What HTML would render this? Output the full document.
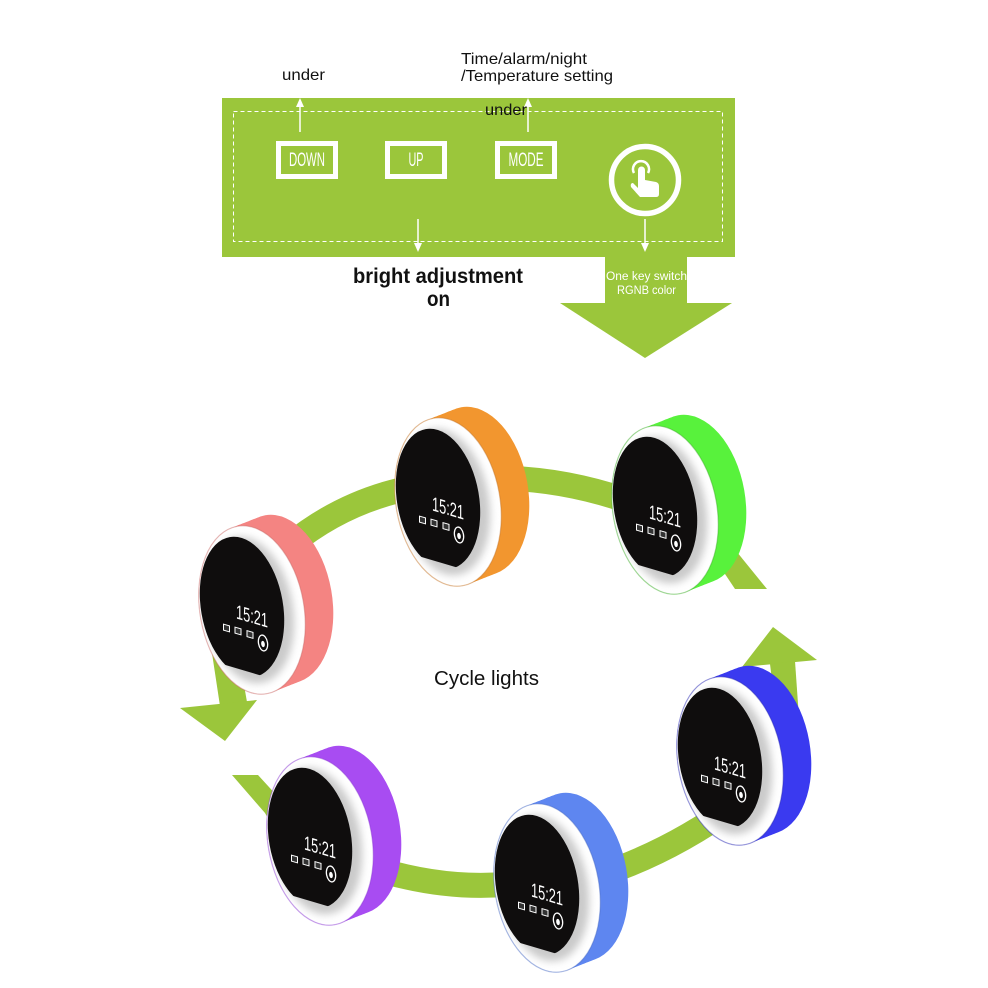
<!DOCTYPE html>
<html>
<head>
<meta charset="utf-8">
<style>
html,body{margin:0;padding:0;background:#fff;}
svg{display:block;}
</style>
</head>
<body>
<svg width="988" height="988" viewBox="0 0 988 988" xmlns="http://www.w3.org/2000/svg" xmlns:xlink="http://www.w3.org/1999/xlink" font-family="'Liberation Sans', sans-serif">
<defs>
  <ellipse id="W" rx="52" ry="85" transform="rotate(-10)"/>
  <g id="B">
    <use href="#W" x="10" y="3"/>
    <use href="#W" x="13.5" y="1.625"/>
    <use href="#W" x="17" y="0.25"/>
    <use href="#W" x="20.5" y="-1.125"/>
    <use href="#W" x="24" y="-2.5"/>
    <use href="#W" x="27.5" y="-3.875"/>
    <use href="#W" x="31" y="-5.25"/>
    <use href="#W" x="34.5" y="-6.625"/>
    <use href="#W" x="38" y="-8"/>
  </g>
  <clipPath id="wc"><use href="#W" x="10" y="3"/></clipPath>
  <clipPath id="cut"><polygon points="-100,-120 100,-120 100,92.5 -100,33.3"/></clipPath>
  <filter id="bl" x="-50%" y="-50%" width="200%" height="200%"><feGaussianBlur stdDeviation="4"/></filter>
  <g id="F">
    <g clip-path="url(#wc)"><ellipse transform="translate(7,3) rotate(-10)" rx="44" ry="74" fill="#cacaca" filter="url(#bl)"/></g>
    <g clip-path="url(#cut)"><ellipse transform="rotate(-10)" rx="41" ry="71" fill="#0f0d0d"/></g>
    <text transform="translate(10,9) skewY(16)" x="0" y="7" text-anchor="middle" font-size="20" textLength="32" lengthAdjust="spacingAndGlyphs" fill="#fff">15:21</text>
    <rect x="-3" y="-3" width="6" height="6" transform="translate(-15.5,21) skewY(16)" fill="#333" stroke="#fff" stroke-width="1"/>
    <rect x="-3" y="-3" width="6" height="6" transform="translate(-4,24) skewY(16)" fill="#333" stroke="#fff" stroke-width="1"/>
    <rect x="-3" y="-3" width="6" height="6" transform="translate(8,27.5) skewY(16)" fill="#333" stroke="#fff" stroke-width="1"/>
    <ellipse transform="translate(21,36) rotate(-10)" rx="4.5" ry="8" fill="none" stroke="#fff" stroke-width="1.3"/>
    <ellipse transform="translate(21,37) rotate(-10)" rx="1.8" ry="3.2" fill="#fff"/>
  </g>
</defs>

<!-- ===== Top panel ===== -->
<rect x="222" y="98" width="513" height="159" fill="#9bc63b"/>
<rect x="605" y="256" width="82" height="48" fill="#9bc63b"/>
<polygon points="560,303 732,303 645,358" fill="#9bc63b"/>
<rect x="233.5" y="111.5" width="489" height="130" fill="none" stroke="#fff" stroke-width="1" stroke-dasharray="4 3"/>

<rect x="278.5" y="143.5" width="57" height="33" fill="none" stroke="#fff" stroke-width="5"/>
<rect x="387.5" y="143.5" width="57" height="33" fill="none" stroke="#fff" stroke-width="5"/>
<rect x="497.5" y="143.5" width="57" height="33" fill="none" stroke="#fff" stroke-width="5"/>
<text x="307" y="166" text-anchor="middle" font-size="19" fill="#fff" textLength="36" lengthAdjust="spacingAndGlyphs">DOWN</text>
<text x="416" y="166" text-anchor="middle" font-size="19" fill="#fff" textLength="15" lengthAdjust="spacingAndGlyphs">UP</text>
<text x="526" y="166" text-anchor="middle" font-size="19" fill="#fff" textLength="35" lengthAdjust="spacingAndGlyphs">MODE</text>

<circle cx="645" cy="180" r="33.5" fill="none" stroke="#fff" stroke-width="5.5"/>
<path d="M634 173 A8 8 0 1 1 648 173" fill="none" stroke="#fff" stroke-width="2.5"/>
<path d="M638 186 L638 170 A3.5 3.5 0 0 1 645 170 L645 180 L656 182 Q659 183 659 186 L659 194 Q659 197 656 197 L640 197 L631 187 Q630 183 633 183 L638 188 Z" fill="#fff"/>

<!-- small arrows -->
<line x1="300" y1="132" x2="300" y2="104" stroke="#fff" stroke-width="1.5"/>
<polygon points="296,107 300,98 304,107" fill="#fff"/>
<line x1="528" y1="132" x2="528" y2="104" stroke="#fff" stroke-width="1.5"/>
<polygon points="524,107 528,98 532,107" fill="#fff"/>
<line x1="418" y1="219" x2="418" y2="246" stroke="#fff" stroke-width="1.5"/>
<polygon points="414,243 418,252 422,243" fill="#fff"/>
<line x1="645" y1="219" x2="645" y2="246" stroke="#fff" stroke-width="1.5"/>
<polygon points="641,243 645,252 649,243" fill="#fff"/>

<!-- top texts -->
<text x="282" y="80" font-size="16" fill="#111" textLength="43" lengthAdjust="spacingAndGlyphs">under</text>
<text x="461" y="64" font-size="16" fill="#111" textLength="126" lengthAdjust="spacingAndGlyphs">Time/alarm/night</text>
<text x="461" y="81" font-size="16" fill="#111" textLength="152" lengthAdjust="spacingAndGlyphs">/Temperature setting</text>
<text x="485" y="115" font-size="16" fill="#111" textLength="42" lengthAdjust="spacingAndGlyphs">under</text>
<text x="353" y="283" font-size="21" font-weight="bold" fill="#111" textLength="170" lengthAdjust="spacingAndGlyphs">bright adjustment</text>
<text x="427" y="306" font-size="21" font-weight="bold" fill="#111" textLength="23" lengthAdjust="spacingAndGlyphs">on</text>
<text x="606" y="280" font-size="11.5" fill="#fff" textLength="81" lengthAdjust="spacingAndGlyphs">One key switch</text>
<text x="617" y="294" font-size="11.5" fill="#fff" textLength="59" lengthAdjust="spacingAndGlyphs">RGNB color</text>

<!-- ===== Cycle ring ===== -->
<g fill="none" stroke="#9bc63b" stroke-width="25" stroke-linecap="butt">
  <path d="M290 545 Q345 500 415 487"/>
  <path d="M495 478 Q560 478 625 500"/>
  <path d="M600 875 Q670 852 735 805"/>
  <path d="M380 870 Q447 890 510 884"/>
</g>
<g fill="#9bc63b">
  <polygon points="715,559 728,541 767,589 735,589"/>
  <polygon points="742,667 773,627 817,660"/>
  <polygon points="770,664 795,661 799,718 776,712"/>
  <polygon points="232,775 258,775 290,810 272,825 265,813"/>
  <polygon points="210,640 236,640 247,702 220,706"/>
  <polygon points="180,708 257,700 225,741"/>
</g>

<text x="434" y="685" font-size="20" fill="#111" textLength="105" lengthAdjust="spacingAndGlyphs">Cycle lights</text>

<!-- ===== Clocks ===== -->
<!-- orange -->
<g transform="translate(438,499)">
  <use href="#B" fill="#f2962f"/>
  <use href="#W" x="10" y="3" fill="#fff" stroke="#c0742a" stroke-opacity="0.45" stroke-width="1.2"/>
  <use href="#F"/>
</g>
<!-- green -->
<g transform="translate(655,507)">
  <use href="#B" fill="#58f23c"/>
  <use href="#W" x="10" y="3" fill="#fff" stroke="#3fa82a" stroke-opacity="0.45" stroke-width="1.2"/>
  <use href="#F"/>
</g>
<!-- pink -->
<g transform="translate(242,607)">
  <use href="#B" fill="#f48482"/>
  <use href="#W" x="10" y="3" fill="#fff" stroke="#c86a68" stroke-opacity="0.45" stroke-width="1.2"/>
  <use href="#F"/>
</g>
<!-- dark blue -->
<g transform="translate(720,758)">
  <use href="#B" fill="#3a3af0"/>
  <use href="#W" x="10" y="3" fill="#fff" stroke="#2a2ab0" stroke-opacity="0.45" stroke-width="1.2"/>
  <use href="#F"/>
</g>
<!-- light blue -->
<g transform="translate(537,885)">
  <use href="#B" fill="#5e86f0"/>
  <use href="#W" x="10" y="3" fill="#fff" stroke="#4a6ac0" stroke-opacity="0.45" stroke-width="1.2"/>
  <use href="#F"/>
</g>
<!-- purple -->
<g transform="translate(310,838)">
  <use href="#B" fill="#a84cf2"/>
  <use href="#W" x="10" y="3" fill="#fff" stroke="#8a3ad0" stroke-opacity="0.45" stroke-width="1.2"/>
  <use href="#F"/>
</g>
</svg>
</body>
</html>
